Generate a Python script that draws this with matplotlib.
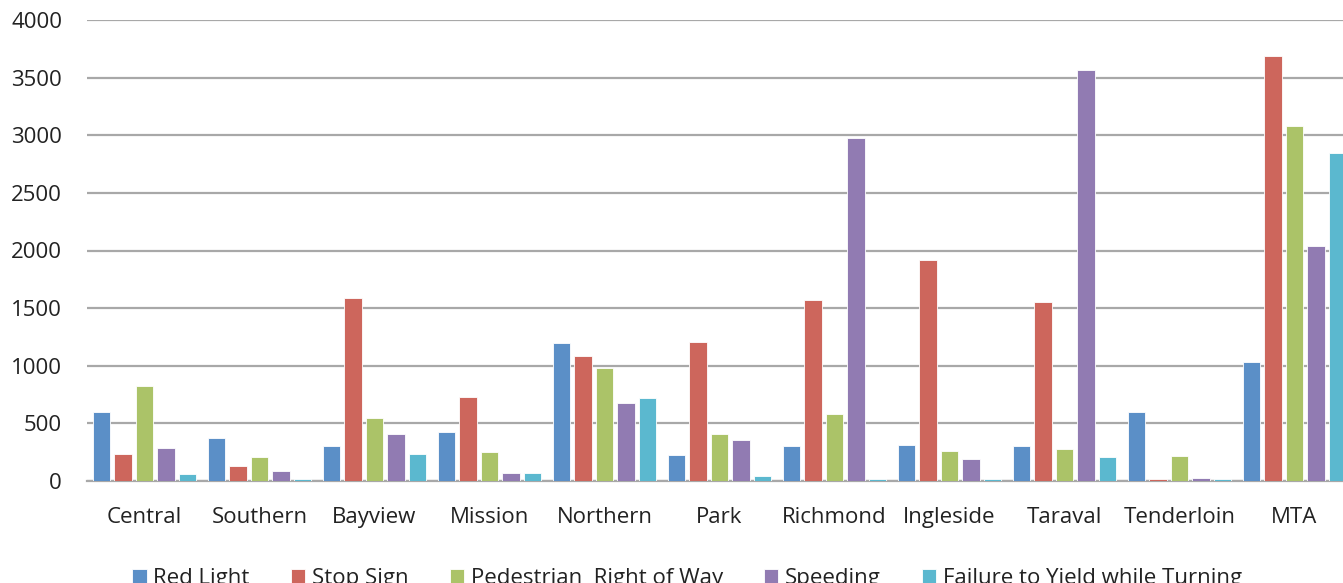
import matplotlib
matplotlib.use("Agg")
import numpy as np
from matplotlib import pyplot as plt

# districts and citation counts per violation type
districts = ["Central", "Southern", "Bayview", "Mission", "Northern", "Park",
             "Richmond", "Ingleside", "Taraval", "Tenderloin", "MTA"]
series_names = ["Red Light", "Stop Sign", "Pedestrian  Right of Way",
                "Speeding", "Failure to Yield while Turning"]

red_light = [600, 370, 302, 422, 1195, 222, 302, 316, 302, 600, 1035]
stop_sign = [234, 127, 1585, 732, 1085, 1205, 1570, 1915, 1550, 15, 3690]
pedestrian = [828, 208, 547, 248, 978, 412, 585, 260, 275, 219, 3083]
speeding = [287, 86, 408, 72, 680, 354, 2976, 193, 3566, 29, 2036]
failure_to_yield = [60, 18, 234, 72, 721, 46, 15, 15, 208, 15, 2843]

colors = ["#5B8FC7", "#CD665C", "#ABC368", "#917BB2", "#5BB8CF"]

plt.rcParams['font.family'] = ['Open Sans', 'DejaVu Sans']

fig = plt.figure(figsize=(13.43, 5.83), dpi=100)
ax = fig.add_axes([87 / 1343, 102 / 583, 1265 / 1343, 461 / 583])

x = np.arange(len(districts))
pitch = 0.187
all_series = [red_light, stop_sign, pedestrian, speeding, failure_to_yield]
for i, vals in enumerate(all_series):
    ax.bar(x + (i - 2) * pitch, vals, width=0.15, color=colors[i],
           edgecolor="white", linewidth=0.6, label=series_names[i], zorder=3)

ax.set_xlim(-0.5, len(districts) - 0.5)
ax.set_ylim(0, 4000)
ax.set_yticks(np.arange(0, 4001, 500))
ax.set_xticks(x)
ax.set_xticklabels(districts)
ax.tick_params(axis="both", length=0, labelsize=16, colors="#222222")
ax.tick_params(axis="y", pad=18)
ax.tick_params(axis="x", pad=19)
ax.yaxis.grid(True, color="#A8A8A8", linewidth=1.6, zorder=0)
ax.set_axisbelow(True)
for s in ["top", "right", "left"]:
    ax.spines[s].set_visible(False)
ax.spines["bottom"].set_color("#A8A8A8")
ax.spines["bottom"].set_linewidth(1.6)

fig.legend(loc="upper left", bbox_to_anchor=(121 / 1343, 1 - 557 / 583),
           ncol=5, frameon=False, fontsize=16, handlelength=0.65,
           handleheight=0.65, handletextpad=0.3, columnspacing=1.85,
           borderpad=0, labelcolor="#222222")

fig.savefig("out.png", dpi=100)
